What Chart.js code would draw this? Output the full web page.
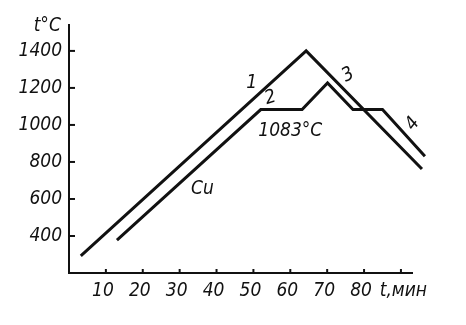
<!DOCTYPE html>
<html>
<head>
<meta charset="utf-8">
<script src="https://cdn.jsdelivr.net/npm/chart.js@4/dist/chart.umd.min.js"></script>
<style>
  html, body { margin: 0; padding: 0; background: #fff; }
</style>
</head>
<body>
<canvas id="chart" width="466" height="325"></canvas>
<script>
// Curve 1: heating / cooling without phase change
var line1Time = [3.2, 64.3, 95.7];
var line1Temp = [292, 1400, 762];

// Curve 2: copper (Cu), with melting / freezing plateau at 1083 °C
var cuTime = [13, 52, 63.2, 70.1, 77, 85, 96.5];
var cuTemp = [378, 1083, 1083, 1227, 1083, 1083, 831];

// Axis ticks
var xTicks = [10, 20, 30, 40, 50, 60, 70, 80, 90];
var yTicks = [400, 600, 800, 1000, 1200, 1400];
var xTitle = 't,мин';
var yTitle = 't°C';

// Text notes on the plot, in data units
var notes = [
    {text: '1', t: 49.5, T: 1227, rot: 0},
    {text: '2', t: 54.6, T: 1146, rot: -0.3},
    {text: '3', t: 75.7, T: 1270, rot: -0.5},
    {text: '4', t: 93.2, T: 1005, rot: -0.9},
    {text: '1083°C', t: 60, T: 968, rot: 0},
    {text: 'Cu', t: 36.2, T: 654, rot: 0},
    {text: yTitle, t: -5.9, T: 1535, rot: 0}
];

var ink = '#111';
var fontFamily = '"DejaVu Sans Condensed", "Liberation Sans Narrow", "DejaVu Sans", sans-serif';

function toPoints(xs, ys) {
    return xs.map(function(x, i) { return {x: x, y: ys[i]}; });
}

// Inward tick marks and text notes
var sketchPlugin = {
    id: 'sketch',
    afterDraw: function(chart) {
        var ctx = chart.ctx;
        var xs = chart.scales.x;
        var ys = chart.scales.y;
        var area = chart.chartArea;
        ctx.save();
        ctx.strokeStyle = ink;
        ctx.lineWidth = 2;
        yTicks.forEach(function(v) {
            var y = ys.getPixelForValue(v);
            ctx.beginPath();
            ctx.moveTo(area.left, y);
            ctx.lineTo(area.left + 6, y);
            ctx.stroke();
        });
        xTicks.forEach(function(v) {
            var x = xs.getPixelForValue(v);
            ctx.beginPath();
            ctx.moveTo(x, area.bottom);
            ctx.lineTo(x, area.bottom - 4);
            ctx.stroke();
        });
        ctx.fillStyle = ink;
        ctx.textAlign = 'center';
        ctx.textBaseline = 'middle';
        ctx.font = 'italic 19px ' + fontFamily;
        notes.forEach(function(n) {
            ctx.save();
            ctx.translate(xs.getPixelForValue(n.t), ys.getPixelForValue(n.T));
            ctx.rotate(n.rot);
            ctx.fillText(n.text, 0, 0);
            ctx.restore();
        });
        ctx.restore();
    }
};

var lineStyle = {
    borderColor: ink,
    borderWidth: 3,
    pointRadius: 0,
    tension: 0,
    clip: false,
    borderJoinStyle: 'miter',
    fill: false
};

new Chart(document.getElementById('chart').getContext('2d'), {
    type: 'line',
    data: {
        datasets: [
            Object.assign({label: '1', data: toPoints(line1Time, line1Temp)}, lineStyle),
            Object.assign({label: 'Cu', data: toPoints(cuTime, cuTemp)}, lineStyle)
        ]
    },
    options: {
        responsive: false,
        animation: false,
        devicePixelRatio: 1,
        layout: {padding: {top: 25, right: 54, left: 0, bottom: 0}},
        plugins: {legend: {display: false}, tooltip: {enabled: false}},
        scales: {
            x: {
                type: 'linear',
                min: 0,
                max: 93,
                afterBuildTicks: function(scale) {
                    scale.ticks = xTicks.map(function(v) { return {value: v}; });
                },
                afterFit: function(scale) { scale.height = 52; },
                grid: {display: false, drawTicks: false},
                border: {display: true, color: ink, width: 2},
                ticks: {
                    color: ink,
                    padding: 7,
                    labelOffset: -3,
                    maxRotation: 0,
                    autoSkip: false,
                    font: {family: fontFamily, size: 19, style: 'italic'},
                    callback: function(v) { return v === 90 ? '  ' + xTitle : String(v); }
                }
            },
            y: {
                type: 'linear',
                min: 200,
                max: 1540,
                afterBuildTicks: function(scale) {
                    scale.ticks = yTicks.map(function(v) { return {value: v}; });
                },
                afterFit: function(scale) { scale.width = 69; },
                grid: {display: false, drawTicks: false},
                border: {display: true, color: ink, width: 2},
                ticks: {
                    color: ink,
                    padding: 7,
                    font: {family: fontFamily, size: 19, style: 'italic'},
                    callback: function(v) { return String(v); }
                }
            }
        }
    },
    plugins: [sketchPlugin]
});
</script>
</body>
</html>
